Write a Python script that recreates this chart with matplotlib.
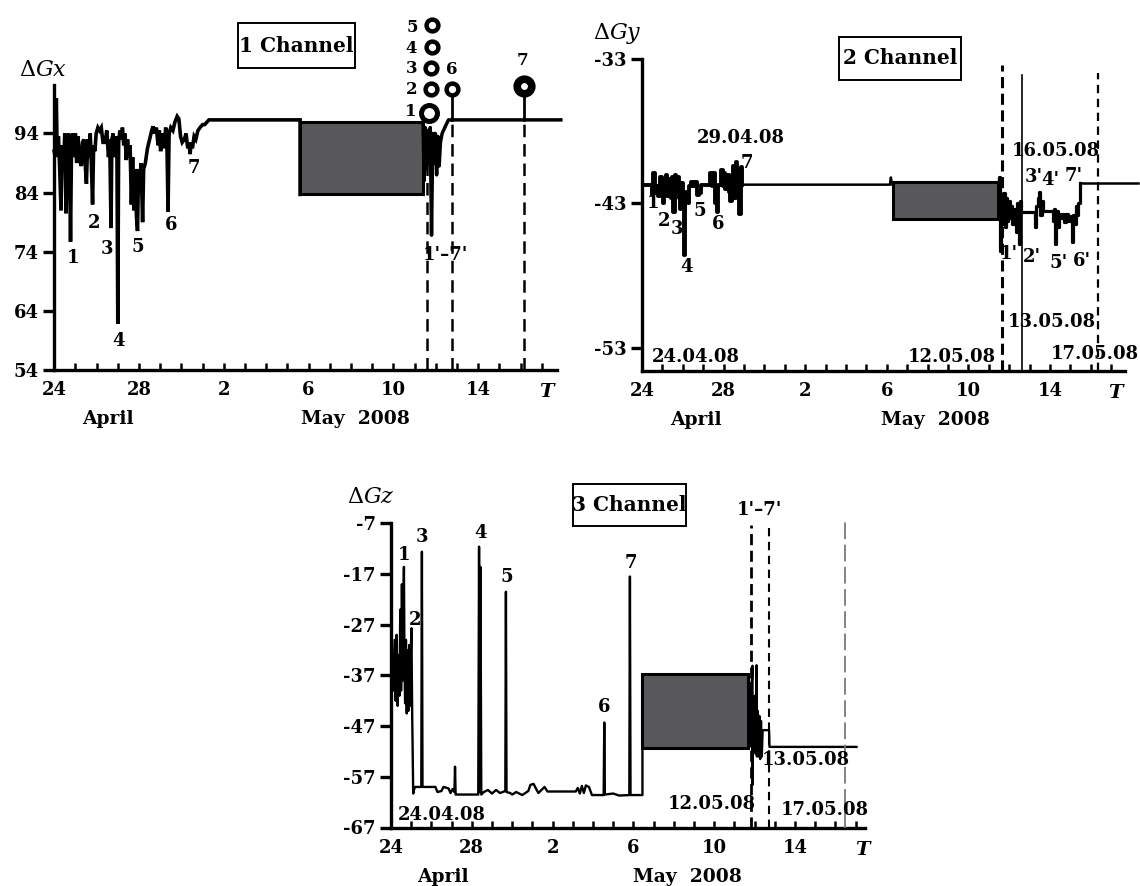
import matplotlib
matplotlib.use("Agg")
import matplotlib.pyplot as plt
from matplotlib.patches import Rectangle

plt.rcParams['font.family'] = 'DejaVu Serif'
plt.rcParams['mathtext.fontset'] = 'dejavuserif'
plt.rcParams['lines.scale_dashes'] = False

# ---------------- shared axis data (days since 24 April 2008) ----------------
day_ticks = [0, 4, 8, 12, 16, 20]
day_labels = ['24', '28', '2', '6', '10', '14']

# ---------------- Channel 1 (ΔGx) ----------------
ch1_t = [0.00, 0.06, 0.10, 0.14, 0.20, 0.26, 0.32, 0.38, 0.44, 0.50, 0.56, 0.62, 0.68, 0.73, 0.77,
         0.82, 0.88, 0.94, 1.00, 1.06, 1.12, 1.18, 1.24, 1.28, 1.34, 1.40, 1.46, 1.52, 1.58, 1.64,
         1.70, 1.76, 1.81, 1.86, 1.92, 1.98, 2.06, 2.14, 2.22, 2.30, 2.40, 2.48, 2.56, 2.62, 2.68,
         2.72, 2.78, 2.84, 2.90, 2.96, 3.00, 3.04, 3.10, 3.16, 3.22, 3.28, 3.34, 3.40, 3.46, 3.52,
         3.58, 3.64, 3.70, 3.76, 3.82, 3.88, 3.93, 3.98, 4.04, 4.10, 4.17, 4.22, 4.30, 4.40, 4.50,
         4.60, 4.66, 4.74, 4.82, 4.90, 4.96, 5.02, 5.10, 5.18, 5.26, 5.32, 5.37, 5.42, 5.50, 5.60,
         5.70, 5.80, 5.88, 5.96, 6.04, 6.14, 6.22, 6.30, 6.36, 6.41, 6.46, 6.52, 6.60, 6.68, 6.78,
         6.88, 7.00, 7.10, 7.30, 11.60, 11.60]
ch1_v = [91.0, 90.0, 100.0, 90.5, 93.5, 88.0, 81.0, 92.0, 88.5, 94.0, 80.5, 92.0, 94.0, 88.0, 75.7,
         93.0, 94.0, 90.0, 94.0, 89.0, 93.5, 91.0, 89.0, 88.5, 92.5, 93.0, 89.0, 85.5, 93.0, 90.0,
         94.0, 88.0, 82.0, 92.0, 91.0, 94.0, 95.0, 94.5, 95.0, 92.5, 92.5, 94.5, 90.0, 93.0, 78.0,
         93.0, 94.0, 90.0, 93.5, 91.0, 61.8, 92.5, 94.5, 93.0, 95.0, 92.0, 94.0, 89.5, 93.0, 90.0,
         92.0, 82.0, 90.0, 81.0, 88.0, 80.0, 77.5, 88.0, 84.0, 89.0, 79.0, 88.0, 89.0, 91.5, 93.0,
         94.5, 95.2, 94.0, 95.0, 92.0, 94.5, 91.0, 94.0, 91.5, 95.0, 92.0, 80.8, 94.0, 95.0, 94.5,
         96.0, 96.9, 96.5, 93.5, 92.5, 93.0, 94.0, 91.5, 92.5, 90.5, 92.5, 91.5, 93.5, 93.0, 94.5,
         95.0, 95.5, 95.5, 96.3, 96.3, 83.7]
ch1_box = (11.6, 17.4, 83.7, 95.9)
ch1_post_t = [17.40, 17.45, 17.50, 17.56, 17.62, 17.68, 17.74, 17.80, 17.86, 17.92, 17.98, 18.04,
              18.10, 18.16, 18.22, 18.30, 18.45, 18.60, 23.90]
ch1_post_v = [95.9, 86.0, 95.0, 88.0, 94.5, 89.0, 95.0, 76.8, 94.0, 89.0, 94.0, 87.0,
              93.5, 88.5, 92.5, 94.0, 95.2, 96.3, 96.3]
ch1_vlines = [17.60, 18.75, 22.15]
ch1_vline_tops = [93.0, 96.3, 96.3]
ch1_ring_t = [17.77, 17.78, 17.80, 17.83, 18.75]
ch1_ring_v = [101.5, 105.0, 108.6, 112.3, 101.5]
ch1_ring1 = (17.68, 97.4)
ch1_ring7 = (22.15, 102.1)
ch1_labels = ['1', '2', '3', '4', '5', '6', '7', "1'\u20137'"]
ch1_label_t = [0.88, 1.89, 2.48, 3.04, 3.93, 5.53, 6.57, 18.45]
ch1_label_v = [72.9, 78.8, 74.5, 58.9, 74.8, 78.5, 88.2, 73.4]
ch1_ring_labels = ['1', '2', '3', '4', '5', '6', '7']
ch1_ring_label_t = [16.80, 16.85, 16.85, 16.85, 16.90, 18.75, 22.10]
ch1_ring_label_v = [97.8, 101.5, 105.0, 108.4, 111.9, 104.9, 106.3]

# ---------------- Channel 2 (ΔGy) ----------------
ch2_t = [0.00, 0.45, 0.50, 0.60, 0.65, 0.75, 0.85, 0.95, 1.00, 1.08, 1.12, 1.20, 1.28, 1.35, 1.45,
         1.50, 1.58, 1.62, 1.70, 1.78, 1.85, 1.90, 1.96, 2.02, 2.10, 2.14, 2.20, 2.28, 2.36, 2.45,
         2.55, 2.65, 2.75, 2.85, 2.95, 3.30, 3.38, 3.46, 3.55, 3.62, 3.70, 3.76, 3.85, 3.92, 3.98,
         4.05, 4.12, 4.20, 4.28, 4.36, 4.42, 4.50, 4.56, 4.62, 4.68, 4.74, 4.80, 4.86, 4.92, 12.15,
         12.20, 12.25, 12.32]
ch2_v = [-41.7, -41.7, -42.4, -40.9, -42.3, -41.8, -42.5, -41.2, -42.4, -43.0, -41.5, -41.0, -42.5,
         -41.3, -42.6, -41.2, -43.6, -41.0, -42.2, -41.2, -42.6, -43.4, -41.6, -42.8, -46.6, -42.8,
         -42.2, -43.0, -41.8, -41.5, -41.8, -41.5, -42.4, -42.3, -41.7, -41.7, -40.9, -41.8, -40.9,
         -43.0, -43.6, -41.7, -41.7, -40.7, -41.8, -40.9, -42.0, -41.0, -42.2, -42.8, -41.0, -40.4,
         -42.6, -40.1, -42.4, -40.6, -43.7, -40.5, -41.7, -41.7, -41.2, -41.7, -41.7]
ch2_box = (12.32, 17.47, -44.1, -41.5)
ch2_post_t = [17.47, 17.52, 17.56, 17.62, 17.68, 17.74, 17.80, 17.86, 17.92, 17.98, 18.05, 18.12,
              18.20, 18.28, 18.36, 18.42, 18.50, 18.56, 18.62, 18.70, 19.25, 19.30, 19.36, 19.44,
              19.50, 19.56, 19.62, 19.70, 20.10, 20.16, 20.22, 20.28, 20.34, 20.40, 20.46, 20.55,
              20.65, 20.75, 20.85, 20.95, 21.05, 21.10, 21.16, 21.24, 21.30, 21.36, 21.42, 21.48,
              24.30]
ch2_post_v = [-41.5, -41.2, -46.3, -42.5, -44.4, -42.3, -44.6, -42.6, -44.2, -42.8, -44.0, -43.2,
              -44.4, -43.4, -45.0, -43.0, -45.8, -42.8, -43.6, -43.6, -43.6, -44.6, -43.2, -42.6,
              -42.2, -43.8, -42.8, -43.5, -43.5, -44.2, -43.4, -45.8, -43.5, -44.6, -43.7, -44.0,
              -43.7, -44.3, -43.7, -44.2, -43.9, -45.7, -43.8, -44.4, -43.2, -43.8, -43.0, -41.6,
              -41.6]
ch2_labels = ['1', '2', '3', '4', '5', '6', '7', '29.04.08', "3'", "4'", "7'", '16.05.08',
              "1'", "2'", "5'", "6'", '24.04.08', '12.05.08', '13.05.08', '17.05.08']
ch2_label_t = [0.55, 1.08, 1.70, 2.19, 2.81, 3.74, 5.15, 4.86, 19.18, 20.00, 21.14, 20.30,
               17.96, 19.10, 20.40, 21.55, 2.62, 15.20, 20.10, 22.20]
ch2_label_v = [-43.0, -44.2, -44.8, -47.4, -43.5, -44.4, -40.2, -38.5, -41.2, -41.4, -41.1, -39.4,
               -46.5, -46.7, -47.1, -47.0, -53.6, -53.6, -51.2, -53.4]

# ---------------- Channel 3 (ΔGz) ----------------
ch3_t = [0.00, 0.10, 0.18, 0.23, 0.28, 0.33, 0.38, 0.42, 0.46, 0.50, 0.54, 0.58, 0.62, 0.64, 0.67,
         0.70, 0.74, 0.78, 0.82, 0.86, 0.90, 0.94, 0.98, 1.01, 1.05, 1.10, 1.14, 1.20, 1.50, 1.53,
         1.56, 2.20, 2.30, 2.50, 2.60, 2.85, 2.95, 3.05, 3.14, 3.17, 3.20, 3.40, 4.32, 4.36, 4.40,
         4.43, 4.47, 4.60, 4.80, 5.00, 5.20, 5.40, 5.66, 5.69, 5.72, 5.90, 6.00, 6.20, 6.50, 6.80,
         6.90, 7.06, 7.20, 7.30, 7.45, 7.60, 7.75, 9.15, 9.25, 9.35, 9.45, 9.55, 9.65, 9.80, 9.95,
         10.53, 10.56, 10.59, 11.00, 11.30, 11.80, 11.83, 11.86, 12.45, 12.45]
ch3_v = [-36.0, -40.0, -30.0, -42.0, -29.0, -43.0, -33.0, -41.0, -24.0, -40.0, -19.0, -38.0, -22.0,
         -15.6, -36.0, -42.5, -30.0, -44.5, -32.0, -44.0, -31.0, -43.0, -33.0, -27.7, -45.0, -60.3,
         -59.5, -59.0, -59.0, -12.6, -59.0, -59.0, -60.0, -59.8, -59.0, -59.3, -60.2, -59.4, -60.0,
         -55.0, -60.5, -60.5, -60.5, -11.6, -60.0, -15.6, -60.5, -60.0, -59.6, -60.3, -59.6, -60.2,
         -59.8, -20.5, -60.0, -60.2, -60.5, -60.0, -60.6, -59.8, -58.6, -58.4, -59.5, -60.2, -59.6,
         -59.0, -59.9, -59.9, -59.2, -60.3, -58.8, -60.2, -58.7, -59.0, -60.6, -60.6, -46.3, -60.5,
         -60.3, -60.7, -60.6, -17.5, -60.6, -60.6, -51.3]
ch3_box = (12.45, 17.70, -51.3, -36.8)
ch3_post_t = [17.70, 17.74, 17.78, 17.82, 17.86, 17.90, 17.90, 17.94, 17.98, 18.02, 18.06, 18.10,
              18.12, 18.16, 18.20, 18.24, 18.28, 18.32, 18.36, 18.40, 18.72, 18.74, 23.05]
ch3_post_v = [-36.8, -48.0, -38.5, -51.0, -39.0, -35.1, -58.6, -42.0, -52.0, -41.0, -52.5, -35.0,
              -53.0, -44.0, -53.0, -45.0, -53.5, -46.0, -53.0, -47.8, -47.8, -51.1, -51.1]
ch3_labels = ['1', '2', '3', '4', '5', '6', '7', "1'\u20137'", '24.04.08', '12.05.08',
              '13.05.08', '17.05.08']
ch3_label_t = [0.64, 1.17, 1.55, 4.45, 5.74, 10.56, 11.87, 18.25, 2.54, 15.90, 20.56, 21.50]
ch3_label_v = [-13.3, -26.1, -9.7, -9.0, -17.6, -43.3, -14.8, -4.4, -64.5, -62.3, -53.7, -63.6]

# ---------------- figure ----------------
W, H = 1140, 886
fig = plt.figure(figsize=(W / 100, H / 100), dpi=100)


def px_axes(left, right, bottom, top):
    return fig.add_axes([left / W, 1 - bottom / H, (right - left) / W, (bottom - top) / H])


BOLD = dict(fontweight='bold', family='DejaVu Serif')


def style(ax, xmax, ylim, yticks, month_x, t_x, month_off=-35):
    ax.set_xlim(0, xmax)
    ax.set_ylim(*ylim)
    for s in ['top', 'right']:
        ax.spines[s].set_visible(False)
    for s in ['left', 'bottom']:
        ax.spines[s].set_linewidth(2.4)
    ax.set_xticks(day_ticks)
    ax.set_xticklabels(day_labels, fontsize=13, fontweight='bold')
    ax.set_xticks(range(0, int(xmax) + 1), minor=True)
    ax.tick_params(axis='x', which='both', direction='in', length=5, width=1.8, pad=8)
    ax.set_yticks(yticks)
    ax.set_yticklabels([str(v) for v in yticks], fontsize=13, fontweight='bold')
    ax.tick_params(axis='y', direction='out', length=8, width=2.4, pad=3)
    ax.patch.set_alpha(0)
    ax.annotate('April', xy=(month_x[0], 0), xycoords=('data', 'axes fraction'),
                xytext=(0, month_off), textcoords='offset points', ha='center', va='center',
                fontsize=13.5, **BOLD)
    ax.annotate('May  2008', xy=(month_x[1], 0), xycoords=('data', 'axes fraction'),
                xytext=(0, month_off), textcoords='offset points', ha='center', va='center',
                fontsize=13.5, **BOLD)
    ax.annotate('T', xy=(t_x, 0), xycoords=('data', 'axes fraction'),
                xytext=(0, -16), textcoords='offset points', ha='center', va='center',
                fontsize=14, fontstyle='italic', **BOLD)


def add_box(ax, box):
    t0, t1, v0, v1 = box
    ax.add_patch(Rectangle((t0, v0), t1 - t0, v1 - v0, facecolor='#58585a',
                           edgecolor='black', lw=2.2, zorder=3))


def put_labels(ax, labels, ts, vs, size=13):
    for s, t, v in zip(labels, ts, vs):
        ax.text(t, v, s, ha='center', va='center', fontsize=size, clip_on=False, zorder=6, **BOLD)


def channel_box(x0, y0, x1, y1, s):
    fig.patches.append(Rectangle((x0 / W, 1 - y1 / H), (x1 - x0) / W, (y1 - y0) / H,
                                 transform=fig.transFigure, facecolor='white',
                                 edgecolor='black', lw=1.4, zorder=8))
    fig.text((x0 + x1) / 2 / W, 1 - (y0 + y1) / 2 / H, s, ha='center', va='center',
             fontsize=14.5, zorder=9, **BOLD)


# ---- panel 1 ----
ax1 = px_axes(54.2, 556.6, 370, 85)
style(ax1, 23.7, (54, 102.2), [54, 64, 74, 84, 94], (2.54, 14.2), 23.2)
ax1.plot(ch1_t, ch1_v, color='black', lw=2.6, clip_on=False, zorder=4, solid_joinstyle='miter')
ax1.plot(ch1_post_t, ch1_post_v, color='black', lw=2.5, clip_on=False, zorder=4)
add_box(ax1, ch1_box)
for t, top in zip(ch1_vlines, ch1_vline_tops):
    ax1.plot([t, t], [54, top], color='black', lw=1.8, dashes=(9, 5), zorder=2)
for t, v in zip([ch1_ring_t[-1], ch1_ring7[0]], [ch1_ring_v[-1], ch1_ring7[1]]):
    ax1.plot([t, t], [96.3, v], color='black', lw=2.0, clip_on=False, zorder=4)
ax1.plot(ch1_ring_t, ch1_ring_v, 'o', ms=8.5, mew=3.2, mfc='white', mec='black',
         clip_on=False, zorder=7)
ax1.plot([ch1_ring1[0]], [ch1_ring1[1]], 'o', ms=11.5, mew=3.6, mfc='white', mec='black',
         clip_on=False, zorder=7)
ax1.plot([ch1_ring7[0]], [ch1_ring7[1]], 'o', ms=10.5, mew=5.5, mfc='white', mec='black',
         clip_on=False, zorder=7)
put_labels(ax1, ch1_labels, ch1_label_t, ch1_label_v)
put_labels(ax1, ch1_ring_labels, ch1_ring_label_t, ch1_ring_label_v, size=12)
fig.text(43 / W, 1 - 70 / H, r'$\Delta Gx$', ha='center', va='center', fontsize=16)
channel_box(238, 23, 355, 68, '1 Channel')

# ---- panel 2 ----
ax2 = px_axes(642, 1124.5, 371, 59)
style(ax2, 23.65, (-54.6, -33), [-53, -43, -33], (2.62, 14.4), 23.2)
ax2.plot(ch2_t[:59], ch2_v[:59], color='black', lw=2.8, drawstyle='steps-mid', zorder=4)
ax2.plot(ch2_t[58:], ch2_v[58:], color='black', lw=1.8, zorder=4)
add_box(ax2, ch2_box)
ax2.plot(ch2_post_t[:48], ch2_post_v[:48], color='black', lw=2.3, drawstyle='steps-mid',
         zorder=4)
ax2.plot(ch2_post_t[47:], ch2_post_v[47:], color='black', lw=1.8, clip_on=False, zorder=4)
ax2.plot([17.66, 17.66], [-54.6, -33.4], color='black', lw=2.2, dashes=(8, 4), zorder=5)
ax2.plot([18.62, 18.62], [-54.6, -34.1], color='black', lw=1.2, zorder=5)
ax2.plot([22.37, 22.37], [-54.6, -34.0], color='black', lw=1.6, dashes=(6, 4), zorder=5)
put_labels(ax2, ch2_labels, ch2_label_t, ch2_label_v)
fig.text(617 / W, 1 - 33 / H, r'$\Delta Gy$', ha='center', va='center', fontsize=16)
channel_box(839, 37, 961, 80, '2 Channel')

# ---- panel 3 ----
ax3 = px_axes(391, 864.6, 827.5, 523.3)
style(ax3, 23.45, (-67, -7), [-67, -57, -47, -37, -27, -17, -7], (2.58, 14.7), 23.35,
      month_off=-36)
ax3.plot(ch3_t, ch3_v, color='black', lw=1.7, zorder=4)
add_box(ax3, ch3_box)
ax3.plot(ch3_post_t, ch3_post_v, color='black', lw=1.7, zorder=4)
ax3.plot([17.83, 17.83], [-67, -7.4], color='black', lw=2.0, dashes=(8, 4), zorder=5,
         clip_on=False)
ax3.plot([18.74, 18.74], [-67, -7.4], color='black', lw=1.5, dashes=(6, 4), zorder=5,
         clip_on=False)
ax3.plot([22.46, 22.46], [-67, -6.7], color='#777777', lw=1.3, dashes=(12, 4), zorder=5,
         clip_on=False)
put_labels(ax3, ch3_labels, ch3_label_t, ch3_label_v)
fig.text(371 / W, 1 - 497 / H, r'$\Delta Gz$', ha='center', va='center', fontsize=16)
channel_box(573, 484, 686, 526, '3 Channel')

fig.savefig('out.png', dpi=100)
